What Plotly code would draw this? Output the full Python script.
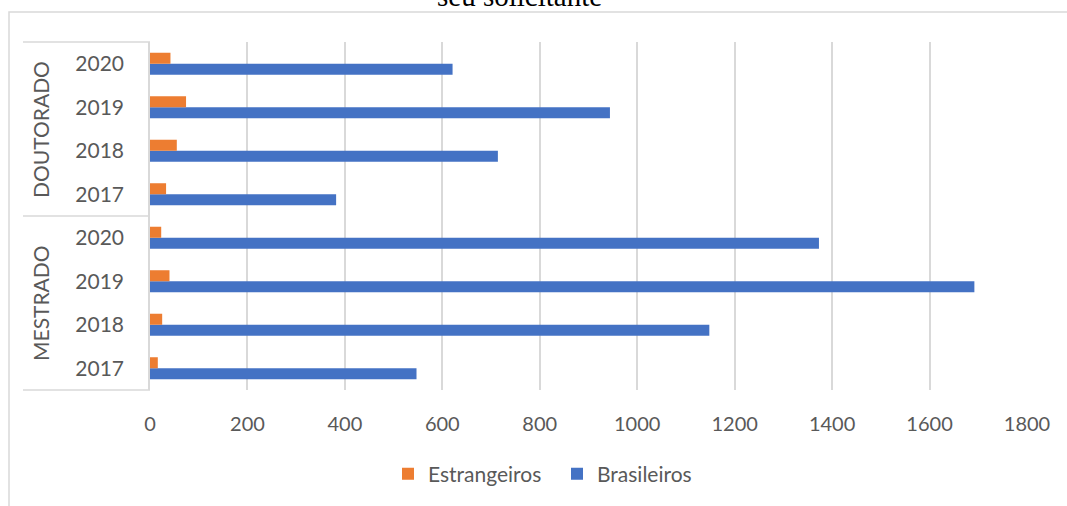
import plotly.graph_objects as go

# Data: requests by level, year and origin of the applicant
years = ["2017", "2018", "2019", "2020"]
groups = ["MESTRADO", "DOUTORADO"]
brasileiros_mestrado = [547, 1148, 1692, 1373]
brasileiros_doutorado = [382, 714, 944, 621]
estrangeiros_mestrado = [16, 25, 40, 23]
estrangeiros_doutorado = [33, 55, 74, 42]
x_ticks = [0, 200, 400, 600, 800, 1000, 1200, 1400, 1600, 1800]

# one category per (level, year), bottom to top
cats = [f"{g} {y}" for g in groups for y in years]
year_labels = [y for g in groups for y in years]
brasileiros = brasileiros_mestrado + brasileiros_doutorado
estrangeiros = estrangeiros_mestrado + estrangeiros_doutorado

BLUE = "#4472C4"
ORANGE = "#ED7D31"
GRID = "#D9D9D9"
TEXT = "#595959"
FONT = "Lato"

W, H = 1067, 506
L, R, T, B = 150, 40, 42, 116
pw, ph = W - L - R, H - T - B


def px_x(px):
    return (px - L) / pw


def px_y(py):
    return (H - B - py) / ph


fig = go.Figure()
fig.add_trace(go.Bar(
    y=cats, x=brasileiros, orientation="h", name="Brasileiros",
    marker=dict(color=BLUE, line=dict(width=0)), legendrank=2,
))
fig.add_trace(go.Bar(
    y=cats, x=estrangeiros, orientation="h", name="Estrangeiros",
    marker=dict(color=ORANGE, line=dict(width=0)), legendrank=1,
))

shapes = [
    # outer chart frame
    dict(type="rect", xref="paper", yref="paper",
         x0=px_x(9), x1=px_x(W + 20), y0=px_y(H + 20), y1=px_y(12),
         line=dict(color=GRID, width=1.5), fillcolor="rgba(0,0,0,0)", layer="below"),
]
# category group dividers
for yp in (0, 0.5, 1):
    shapes.append(dict(type="line", xref="paper", yref="paper",
                       x0=px_x(23), x1=0, y0=yp, y1=yp,
                       line=dict(color=GRID, width=1.5)))

annotations = [
    dict(text="seu solicitante", xref="paper", yref="paper",
         x=px_x(519), y=px_y(14), xanchor="center", yanchor="bottom",
         showarrow=False, font=dict(family="Liberation Serif", size=29, color="#000000")),
]
for g, yc in zip(groups, (0.25, 0.75)):
    annotations.append(dict(text=g, xref="paper", yref="paper",
                            x=px_x(40), y=yc, textangle=-90,
                            xanchor="center", yanchor="middle", showarrow=False,
                            font=dict(family=FONT, size=21, color=TEXT)))

fig.update_layout(
    width=W, height=H,
    margin=dict(l=L, r=R, t=T, b=B),
    paper_bgcolor="white", plot_bgcolor="white",
    barmode="group", bargap=0.494, bargroupgap=0,
    font=dict(family=FONT, size=20, color=TEXT),
    showlegend=True,
    legend=dict(orientation="h", x=px_x(388), y=px_y(474),
                xanchor="left", yanchor="middle",
                entrywidth=124, entrywidthmode="pixels",
                font=dict(family=FONT, size=21, color=TEXT)),
    xaxis=dict(range=[0, 1800], tickvals=x_ticks, showgrid=True,
               gridcolor=GRID, gridwidth=1.5, zeroline=False,
               showline=False, ticks="", ticklabelstandoff=20,
               tickfont=dict(family=FONT, size=20, color=TEXT)),
    yaxis=dict(categoryorder="array", categoryarray=cats,
               tickvals=cats, ticktext=year_labels,
               showgrid=False, showline=True, linecolor=GRID, linewidth=1.5,
               ticks="", ticklabelstandoff=20,
               tickfont=dict(family=FONT, size=21, color=TEXT)),
    shapes=shapes, annotations=annotations,
)

fig.write_html("out.html")
